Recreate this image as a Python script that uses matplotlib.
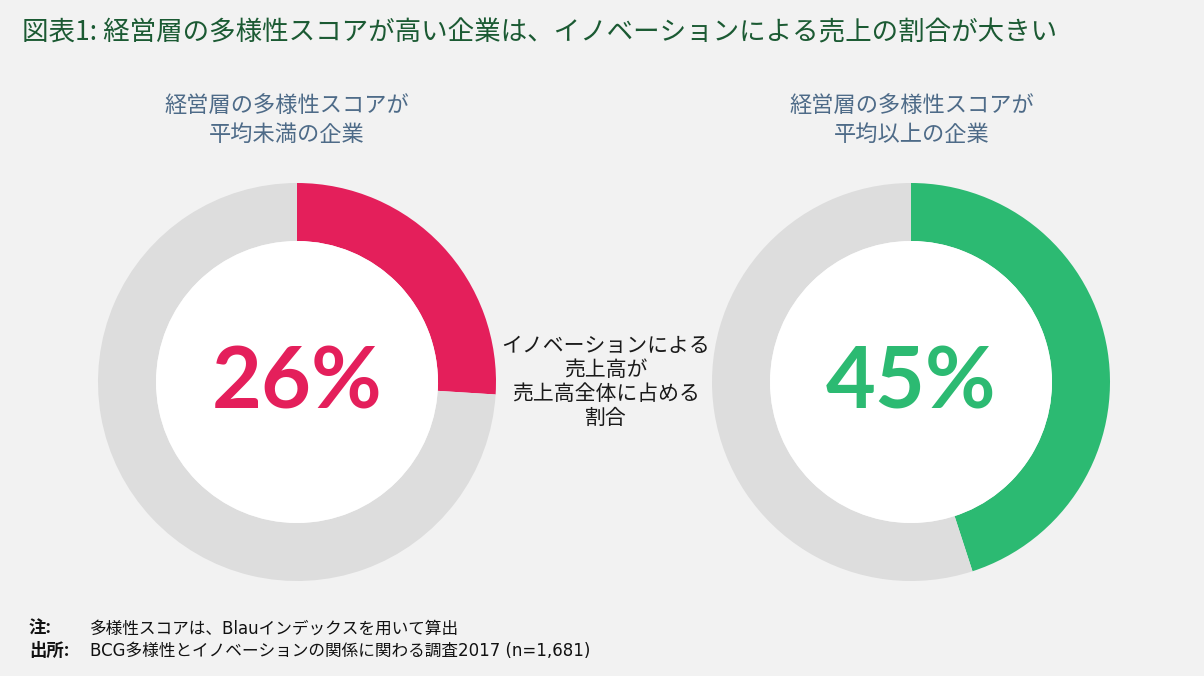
import matplotlib.pyplot as plt
from matplotlib.patches import Circle

plt.rcParams['font.family'] = ['Noto Sans CJK JP', 'DejaVu Sans']

# data
groups = ['経営層の多様性スコアが\n平均未満の企業', '経営層の多様性スコアが\n平均以上の企業']
shares = [26, 45]
share_colors = ['#e41f5b', '#2cba72']
ring_gray = '#dddddd'
bg = '#f2f2f2'

title = '図表1: 経営層の多様性スコアが高い企業は、イノベーションによる売上の割合が大きい'
center_label = 'イノベーションによる\n売上高が\n売上高全体に占める\n割合'
note_text = '多様性スコアは、Blauインデックスを用いて算出'
source_text = 'BCG多様性とイノベーションの関係に関わる調査2017 (n=1,681)'

W, H = 1204, 676
fig = plt.figure(figsize=(W / 100, H / 100), dpi=100, facecolor=bg)
ax = fig.add_axes([0, 0, 1, 1])
ax.set_facecolor(bg)

centers_x = [297, 911]
label_x = [287, 912]
cy = H - 382
r_out, r_in = 199, 141

for i in range(2):
    cx = centers_x[i]
    ax.pie([shares[i], 100 - shares[i]], colors=[share_colors[i], ring_gray],
           startangle=90, counterclock=False, radius=r_out, center=(cx, cy),
           wedgeprops=dict(width=r_out - r_in, linewidth=0))
    ax.add_patch(Circle((cx, cy), r_in, facecolor='white', edgecolor='none', zorder=3))
    ax.text(cx, cy - 2, f'{shares[i]}%', family=['Lato', 'DejaVu Sans'], weight='bold',
            fontsize=62, color=share_colors[i], ha='center', va='center', zorder=4)
    ax.text(label_x[i], H - 120, groups[i], fontsize=16, color='#4e6b88', ha='center',
            va='center', linespacing=1.3)

ax.text(606, H - 382, center_label, fontsize=15, color='#1a1a1a', ha='center', va='center',
        linespacing=1.12)

ax.text(22, H - 33, title, fontsize=19.1, color='#1b5a33', ha='left', va='center')

foot_font = ['DejaVu Sans', 'Noto Sans CJK JP']
ax.text(29, H - 629, '注:', fontsize=12.5, weight='bold', color='#111111', ha='left', va='center')
ax.text(90, H - 629, note_text, family=foot_font, fontsize=12, color='#111111',
        ha='left', va='center')
ax.text(29, H - 651, '出所:', fontsize=12.5, weight='bold', color='#111111', ha='left', va='center')
ax.text(90, H - 651, source_text, family=foot_font, fontsize=12, color='#111111',
        ha='left', va='center')

ax.set_xlim(0, W)
ax.set_ylim(0, H)
ax.set_aspect('equal')
ax.axis('off')

fig.savefig('out.png', dpi=100, facecolor=bg)
